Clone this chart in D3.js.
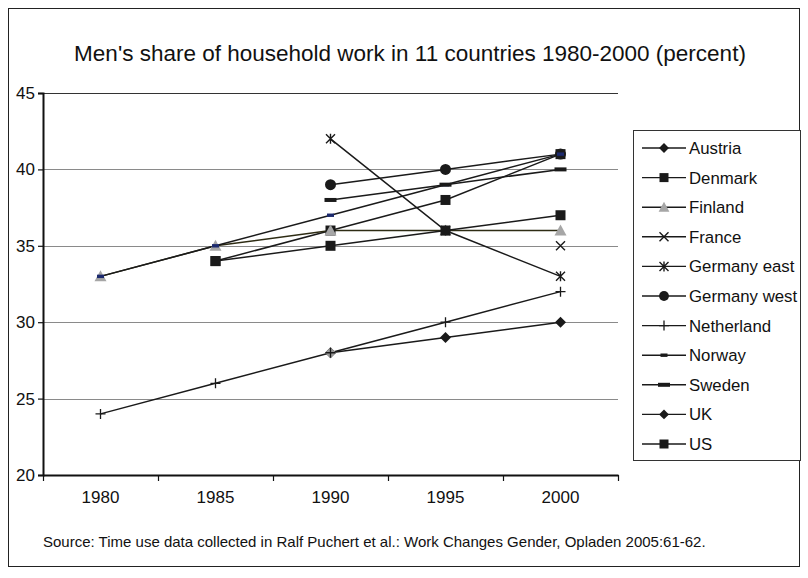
<!DOCTYPE html>
<html>
<head>
<meta charset="utf-8">
<script src="https://cdn.jsdelivr.net/npm/d3@7"></script>
<style>
  html, body { margin: 0; padding: 0; background: #fff; }
  svg { display: block; font-family: "Liberation Sans", Arial, sans-serif; }
</style>
</head>
<body>
<svg id="chart" width="808" height="578"></svg>
<script>
// Men's share of household work (percent), by survey year
const years = ["1980", "1985", "1990", "1995", "2000"];
const yTicks = [20, 25, 30, 35, 40, 45];

const austria      = [null, null, 28, null, null];
const denmark      = [null, 34, 36, 38, 41];
const finland      = [33, 35, 36, 36, 36];
const france       = [null, null, null, null, 35];
const germanyEast  = [null, null, 42, 36, 33];
const germanyWest  = [null, null, 39, 40, 41];
const netherland   = [24, 26, 28, 30, 32];
const norway       = [33, 35, 37, 39, 41];
const sweden       = [null, null, 38, 39, 40];
const uk           = [null, null, 28, 29, 30];
const us           = [null, 34, 35, 36, 37];

const seriesNames = ["Austria", "Denmark", "Finland", "France", "Germany east",
  "Germany west", "Netherland", "Norway", "Sweden", "UK", "US"];
const seriesValues = [austria, denmark, finland, france, germanyEast,
  germanyWest, netherland, norway, sweden, uk, us];
const markerShapes = ["diamond", "square", "triangle", "x", "asterisk",
  "circle", "plus", "dashSmall", "dashLarge", "diamond", "square"];
const markerFills = ["#9a9a9a", "#1a1a1a", "#a6a6a6", "#1a1a1a", "#1a1a1a",
  "#1a1a1a", "#1a1a1a", "#1c2a6e", "#1a1a1a", "#1a1a1a", "#1a1a1a"];
// stacking order of the point markers (later ones sit on top)
const markerOrder = ["UK", "Austria", "Denmark", "Finland", "France", "Germany east",
  "Germany west", "Netherland", "Norway", "Sweden", "US"];

const svg = d3.select("#chart");
const plot = { left: 43, right: 618, top: 93, bottom: 475 };

// chart frame
svg.append("rect")
  .attr("x", 8.5).attr("y", 8.5).attr("width", 791).attr("height", 558)
  .attr("fill", "#fff").attr("stroke", "#222").attr("stroke-width", 1);

// title
svg.append("text")
  .attr("x", 410).attr("y", 61)
  .attr("text-anchor", "middle")
  .attr("font-size", 22.5).attr("fill", "#111")
  .text("Men's share of household work in 11 countries 1980-2000 (percent)");

const xBand = d3.scaleBand().domain(years).range([plot.left, plot.right]).padding(0);
const xPt = d3.scalePoint().domain(years).range([plot.left, plot.right]).padding(0.5);
const y = d3.scaleLinear().domain([20, 45]).range([plot.bottom, plot.top]);

// horizontal gridlines
svg.append("g").selectAll("line")
  .data(yTicks.filter(v => v > 20))
  .join("line")
  .attr("x1", plot.left).attr("x2", plot.right)
  .attr("y1", d => Math.round(y(d)) + 0.5).attr("y2", d => Math.round(y(d)) + 0.5)
  .attr("stroke", d => d === 45 ? "#333" : "#8a8a8a")
  .attr("stroke-width", 1.2);

// y axis
const yAxis = svg.append("g")
  .attr("transform", `translate(${plot.left},0)`)
  .call(d3.axisLeft(y).tickValues(yTicks).tickSize(5).tickPadding(3).tickFormat(d3.format("d")));
yAxis.select(".domain").attr("stroke", "#111").attr("stroke-width", 2);
yAxis.selectAll(".tick line").attr("stroke", "#111").attr("stroke-width", 1.2);
yAxis.selectAll(".tick text").attr("font-size", 17).attr("fill", "#111")
  .attr("font-family", "Liberation Sans, Arial, sans-serif");

// x axis: labels centred on categories, tick marks between them
const xAxis = svg.append("g")
  .attr("transform", `translate(0,${plot.bottom})`)
  .call(d3.axisBottom(xBand).tickSize(0).tickPadding(16));
xAxis.select(".domain").attr("stroke", "#111").attr("stroke-width", 2);
xAxis.selectAll(".tick text").attr("font-size", 17).attr("fill", "#111")
  .attr("font-family", "Liberation Sans, Arial, sans-serif");
const edges = years.map(d => xBand(d)).concat([xBand.range()[1]]);
svg.append("g").selectAll("line")
  .data(edges)
  .join("line")
  .attr("x1", d => Math.round(d) + 0.5).attr("x2", d => Math.round(d) + 0.5)
  .attr("y1", plot.bottom).attr("y2", plot.bottom + 6)
  .attr("stroke", "#111").attr("stroke-width", 1.2);

// series lines
const line = d3.line()
  .defined(d => d.v !== null)
  .x(d => xPt(d.year))
  .y(d => y(d.v));

const series = seriesNames.map((name, i) => ({
  name,
  shape: markerShapes[i],
  fill: markerFills[i],
  points: years.map((yr, j) => ({ year: yr, v: seriesValues[i][j] }))
}));

svg.append("g").selectAll("path")
  .data(series)
  .join("path")
  .attr("d", d => line(d.points))
  .attr("fill", "none")
  .attr("stroke", d => d.name === "Finland" ? "#2e2c14" : "#1a1a1a")
  .attr("stroke-width", 1.5);

// marker drawing
function drawMarker(g, shape, fill, cx, cy, scale) {
  const s = scale || 1;
  switch (shape) {
    case "diamond":
      g.append("path")
        .attr("d", `M${cx},${cy - 5.5 * s}L${cx + 5.5 * s},${cy}L${cx},${cy + 5.5 * s}L${cx - 5.5 * s},${cy}Z`)
        .attr("fill", fill);
      break;
    case "square":
      g.append("rect")
        .attr("x", cx - 5 * s).attr("y", cy - 5 * s)
        .attr("width", 10 * s).attr("height", 10 * s)
        .attr("fill", fill);
      break;
    case "triangle":
      g.append("path")
        .attr("d", `M${cx},${cy - 6 * s}L${cx + 6 * s},${cy + 5 * s}L${cx - 6 * s},${cy + 5 * s}Z`)
        .attr("fill", fill);
      break;
    case "x":
      g.append("path")
        .attr("d", `M${cx - 4.5},${cy - 4.5}L${cx + 4.5},${cy + 4.5}M${cx - 4.5},${cy + 4.5}L${cx + 4.5},${cy - 4.5}`)
        .attr("stroke", fill).attr("stroke-width", 1.4).attr("fill", "none");
      break;
    case "asterisk":
      g.append("path")
        .attr("d", `M${cx - 4.5},${cy - 4.5}L${cx + 4.5},${cy + 4.5}M${cx - 4.5},${cy + 4.5}L${cx + 4.5},${cy - 4.5}M${cx},${cy - 5}L${cx},${cy + 5}`)
        .attr("stroke", fill).attr("stroke-width", 1.4).attr("fill", "none");
      break;
    case "circle":
      g.append("circle")
        .attr("cx", cx).attr("cy", cy).attr("r", 5.5 * s)
        .attr("fill", fill);
      break;
    case "plus":
      g.append("path")
        .attr("d", `M${cx - 5},${cy}L${cx + 5},${cy}M${cx},${cy - 5}L${cx},${cy + 5}`)
        .attr("stroke", fill).attr("stroke-width", 1.3).attr("fill", "none");
      break;
    case "dashSmall":
      g.append("rect")
        .attr("x", cx - 3.5).attr("y", cy - 1.7)
        .attr("width", 7).attr("height", 3.4)
        .attr("fill", fill);
      break;
    case "dashLarge":
      g.append("rect")
        .attr("x", cx - 6).attr("y", cy - 2)
        .attr("width", 12).attr("height", 4)
        .attr("fill", fill);
      break;
  }
}

const markerLayer = svg.append("g");
markerOrder.forEach(name => {
  const s = series.find(d => d.name === name);
  const g = markerLayer.append("g").attr("class", "markers");
  s.points.filter(p => p.v !== null).forEach(p => {
    drawMarker(g, s.shape, s.fill, xPt(p.year), y(p.v));
  });
});

// legend
const legend = { x: 633, y: 130, w: 167, h: 330, row0: 148, step: 29.6 };
svg.append("rect")
  .attr("x", legend.x + 0.5).attr("y", legend.y + 0.5)
  .attr("width", legend.w).attr("height", legend.h)
  .attr("fill", "#fff").attr("stroke", "#333").attr("stroke-width", 1);

const legendFills = series.map(d => d.name === "Austria" || d.name === "Norway" ? "#1a1a1a" : d.fill);
series.forEach((s, i) => {
  const cy = legend.row0 + i * legend.step;
  const g = svg.append("g");
  g.append("line")
    .attr("x1", 642).attr("x2", 686)
    .attr("y1", cy).attr("y2", cy)
    .attr("stroke", "#1a1a1a").attr("stroke-width", 1.4);
  drawMarker(g, s.shape, legendFills[i], 664, cy, 0.9);
  g.append("text")
    .attr("x", 689).attr("y", cy)
    .attr("dy", "0.36em")
    .attr("font-size", 16.8).attr("fill", "#111")
    .text(s.name);
});

// source note
svg.append("text")
  .attr("x", 43).attr("y", 547)
  .attr("font-size", 15).attr("fill", "#111")
  .text("Source: Time use data collected in Ralf Puchert et al.: Work Changes Gender, Opladen 2005:61-62.");
</script>
</body>
</html>
